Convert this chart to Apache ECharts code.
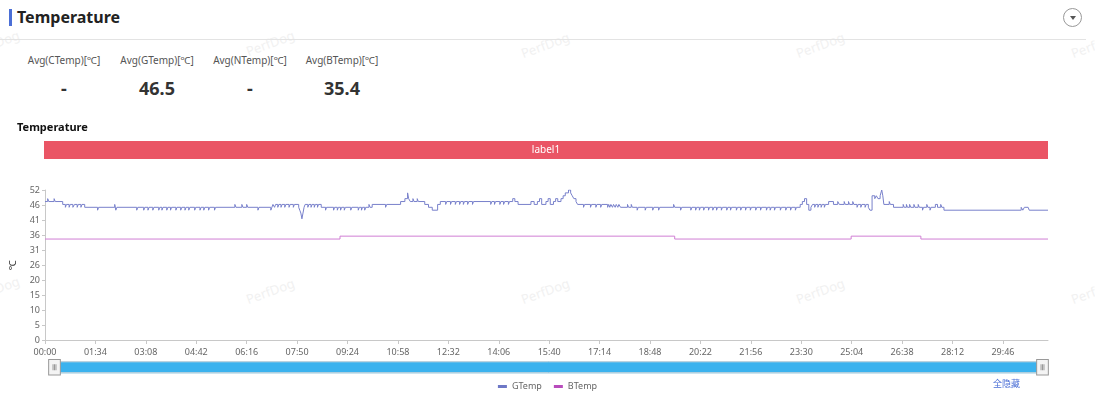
<!DOCTYPE html>
<html>
<head>
<meta charset="utf-8">
<title>Temperature</title>
<script src="https://cdn.jsdelivr.net/npm/echarts@6/dist/echarts.min.js"></script>
<style>
  html, body { margin: 0; padding: 0; background: #fff; }
  body { width: 1095px; height: 399px; position: relative; overflow: hidden;
    font-family: "Noto Sans", "Noto Sans CJK SC", sans-serif; color: #333; }
  .wm { position: absolute; color: #f1f1f1; font-size: 13px; transform: rotate(-20deg);
    pointer-events: none; z-index: 0; white-space: nowrap; }
  .head { position: absolute; left: 0; top: 0; width: 1086px; height: 39px; border-bottom: 1px solid #e3e3e3; z-index: 2; }
  .head .bar { position: absolute; left: 9px; top: 9px; width: 3px; height: 17px; background: #4b6fd6; }
  .head .title { position: absolute; left: 17px; top: 6px; font-size: 16px; font-weight: bold; color: #222; }
  .head .btn { position: absolute; left: 1063px; top: 8px; width: 19px; height: 19px; border: 1px solid #999;
    border-radius: 50%; box-sizing: border-box; }
  .head .btn:after { content: ''; position: absolute; left: 6px; top: 7px; border-left: 3px solid transparent;
    border-right: 3px solid transparent; border-top: 4px solid #555; }
  .stat { position: absolute; top: 52px; width: 100px; text-align: center; z-index: 2; }
  .stat .k { font-size: 10px; color: #555; line-height: 16px; }
  .stat .v { font-size: 18px; font-weight: bold; color: #333; margin-top: 9px; line-height: 22px; }
  #chart { position: absolute; left: 0; top: 115px; width: 1095px; height: 284px; z-index: 1; }
  .hideall { position: absolute; left: 993px; top: 377px; font-size: 9px; color: #4b6fd6; z-index: 2; }
</style>
</head>
<body>
<div class="head">
  <div class="bar"></div>
  <div class="title">Temperature</div>
  <div class="btn"></div>
</div>
<div id="stats"></div>
<div id="chart"></div>
<div class="hideall">全隐藏</div>
<script>
// summary figures above the chart
const statNames = ['Avg(CTemp)[℃]', 'Avg(GTemp)[℃]', 'Avg(NTemp)[℃]', 'Avg(BTemp)[℃]'];
const statValues = ['-', '46.5', '-', '35.4'];

// label strip on top of the plot
const labelNames = ['label1'];
const labelEnds = [1870];

// time axis in seconds
const timeMax = 1870;
const tickStep = 94;

// GTemp: [second, value] change points
const gTemp = [
  [0, 48], [5, 49], [7, 48], [17, 49], [19, 48], [33, 47], [38, 46], [40, 47], [45, 46], [47, 47],
  [52, 46], [55, 47], [60, 46], [62, 47], [67, 46], [69, 47], [74, 46],
  [98, 45], [100, 46], [130, 47], [132, 45], [134, 46], [171, 45], [173, 46], [184, 45], [186, 46],
  [192, 45], [194, 46], [201, 45], [203, 46], [212, 45], [214, 46], [218, 45], [220, 46],
  [227, 45], [229, 46], [234, 45], [236, 46], [244, 45], [246, 46], [253, 45], [255, 46],
  [261, 45], [263, 46], [268, 45], [270, 46], [279, 45], [281, 46], [289, 45], [291, 46],
  [296, 45], [298, 46], [305, 45], [307, 46], [316, 45], [318, 46], [354, 47], [356, 46],
  [367, 47], [369, 46], [376, 47], [378, 46], [397, 45], [399, 46], [421, 45], [423, 46],
  [425, 47], [428, 46], [430, 47], [434, 46], [436, 47], [440, 46], [442, 47], [447, 46], [449, 47],
  [455, 46], [457, 47], [463, 46], [465, 47], [473, 46], [475, 45], [477, 44], [479, 42], [481, 44],
  [483, 46], [485, 47], [490, 46], [492, 47], [496, 46], [498, 47], [502, 46], [504, 47], [508, 46],
  [510, 47], [515, 46], [523, 45], [525, 46], [538, 45], [540, 46], [545, 45], [547, 46],
  [551, 45], [553, 46], [558, 45], [560, 46], [570, 45], [572, 46], [584, 45], [586, 46],
  [590, 45], [592, 46], [596, 45], [598, 46], [604, 47], [606, 46], [610, 47], [635, 46], [637, 47],
  [663, 48], [671, 49], [676, 51], [678, 49], [681, 48], [686, 49], [688, 48], [694, 49], [696, 48],
  [708, 47], [715, 46], [722, 45], [732, 47], [737, 48],
  [747, 47], [749, 48], [756, 47], [758, 48], [765, 47], [767, 48], [773, 47], [775, 48],
  [780, 47], [782, 48], [788, 47], [790, 48], [797, 47], [799, 48], [831, 47], [833, 48],
  [838, 47], [840, 48], [848, 47], [850, 48], [855, 47], [857, 48], [864, 47], [866, 48],
  [872, 49], [876, 48], [882, 47], [906, 48], [912, 47], [918, 48], [922, 49], [926, 47],
  [934, 48], [938, 49], [942, 47], [948, 48], [952, 49], [956, 48],
  [962, 49], [966, 50], [970, 51], [976, 52], [980, 51], [983, 50], [986, 49], [990, 48], [993, 47],
  [1004, 46], [1006, 47], [1017, 46], [1019, 47], [1027, 46], [1029, 47], [1036, 46], [1038, 47],
  [1049, 46], [1051, 47], [1053, 46], [1055, 47], [1058, 46], [1060, 47], [1063, 46], [1065, 47],
  [1068, 46], [1070, 47], [1073, 46], [1086, 47], [1088, 46], [1093, 47], [1095, 46],
  [1104, 45], [1106, 46], [1119, 45], [1121, 46], [1133, 45], [1135, 46], [1144, 45], [1146, 46],
  [1172, 47], [1174, 46], [1185, 45], [1187, 46],
  [1204, 45], [1206, 46], [1213, 45], [1215, 46], [1220, 45], [1222, 46], [1228, 45], [1230, 46],
  [1237, 45], [1239, 46], [1245, 45], [1247, 46], [1252, 45], [1254, 46], [1261, 45], [1263, 46],
  [1271, 45], [1273, 46], [1278, 45], [1280, 46], [1289, 45], [1291, 46], [1297, 45], [1299, 46],
  [1306, 45], [1308, 46], [1315, 45], [1317, 46], [1325, 45], [1327, 46], [1334, 45], [1336, 46],
  [1345, 45], [1347, 46], [1352, 45], [1354, 46], [1360, 45], [1362, 46], [1371, 45], [1373, 46],
  [1381, 45], [1383, 46], [1390, 45], [1392, 46], [1399, 45], [1401, 46],
  [1408, 47], [1412, 48], [1416, 49], [1420, 47], [1424, 45], [1428, 46], [1431, 47],
  [1435, 46], [1437, 47], [1441, 46], [1443, 47], [1447, 46], [1449, 47], [1453, 46], [1455, 47],
  [1461, 48], [1470, 47], [1478, 48], [1481, 47], [1490, 48], [1492, 47], [1498, 48], [1500, 47],
  [1506, 48], [1508, 47], [1514, 46], [1516, 47], [1521, 46], [1523, 47], [1529, 46], [1531, 47],
  [1535, 46], [1538, 45], [1542, 50], [1547, 49], [1550, 50], [1553, 49], [1557, 50], [1560, 52],
  [1562, 50], [1564, 47], [1574, 48], [1576, 47], [1582, 46],
  [1600, 47], [1602, 46], [1606, 47], [1608, 46], [1612, 47], [1614, 46], [1620, 47], [1622, 46],
  [1628, 47], [1630, 46], [1636, 45], [1638, 46], [1644, 47], [1646, 46], [1650, 45], [1652, 46],
  [1660, 47], [1664, 46], [1670, 47], [1672, 46],
  [1676, 45], [1820, 46], [1823, 45], [1826, 46], [1833, 46], [1835, 45], [1870, 45]
];

// BTemp: [second, value] change points
const bTemp = [[0, 35], [550, 36], [1174, 35], [1503, 36], [1633, 35], [1870, 35]];

// watermark spots [left, top]
const marks = [[-30, 34], [245, 34], [520, 36], [795, 36], [1070, 36],
  [-30, 280], [245, 282], [520, 282], [795, 282], [1070, 282]];

const statLeft = [14, 107, 200, 292];
const statsEl = document.getElementById('stats');
statNames.forEach((n, i) => {
  const d = document.createElement('div');
  d.className = 'stat';
  d.style.left = statLeft[i] + 'px';
  d.innerHTML = '<div class="k">' + n + '</div><div class="v">' + statValues[i] + '</div>';
  statsEl.appendChild(d);
});
marks.forEach(m => {
  const w = document.createElement('div');
  w.className = 'wm';
  w.style.left = m[0] + 'px';
  w.style.top = m[1] + 'px';
  w.textContent = 'PerfDog';
  document.body.appendChild(w);
});

const pad = n => (n < 10 ? '0' : '') + n;
const fmtTime = v => pad(Math.floor(v / 60)) + ':' + pad(Math.round(v % 60));

const chart = echarts.init(document.getElementById('chart'));
const font = '"Noto Sans", "Noto Sans CJK SC", sans-serif';

const option = {
  animation: false,
  textStyle: { fontFamily: font },
  title: {
    text: 'Temperature',
    left: 12,
    top: 2,
    textStyle: { fontSize: 11, fontWeight: 'bold', color: '#111', fontFamily: font }
  },
  tooltip: { trigger: 'axis' },
  legend: {
    data: ['GTemp', 'BTemp'],
    top: 262,
    left: 'center',
    icon: 'rect',
    itemWidth: 9,
    itemHeight: 3,
    itemGap: 12,
    textStyle: { fontSize: 9, color: '#666' }
  },
  grid: [
    { left: 44, right: 47, top: 75, bottom: 59 },
    { left: 44, right: 47, top: 26, height: 18 }
  ],
  xAxis: [
    {
      type: 'value',
      gridIndex: 0,
      min: 0,
      max: timeMax,
      interval: tickStep,
      axisLine: { lineStyle: { color: '#c8c8c8' } },
      axisTick: { length: 4, lineStyle: { color: '#c8c8c8' } },
      axisLabel: { fontSize: 9, color: '#666', showMaxLabel: false, formatter: fmtTime },
      splitLine: { show: false }
    },
    { type: 'value', gridIndex: 1, min: 0, max: timeMax, show: false }
  ],
  yAxis: [
    {
      type: 'value',
      gridIndex: 0,
      min: 0,
      max: 52,
      interval: 5.2,
      name: '℃',
      nameLocation: 'middle',
      nameGap: 27,
      nameTextStyle: { fontSize: 10, color: '#333' },
      axisLine: { show: true, lineStyle: { color: '#c8c8c8' } },
      axisTick: { show: true, length: 3, lineStyle: { color: '#c8c8c8' } },
      axisLabel: { fontSize: 9, color: '#666', margin: 5, formatter: v => Math.floor(v) },
      splitLine: { show: false }
    },
    { type: 'category', gridIndex: 1, data: labelNames, show: false }
  ],
  dataZoom: [{
    type: 'slider',
    xAxisIndex: [0, 1],
    left: 51,
    right: 54,
    top: 246,
    height: 12,
    start: 0,
    end: 100,
    backgroundColor: '#e8e8e8',
    fillerColor: '#3bb2ee',
    borderColor: '#d9d9d9',
    showDetail: false,
    brushSelect: false,
    moveHandleSize: 0,
    dataBackground: { lineStyle: { opacity: 0 }, areaStyle: { opacity: 0 } },
    selectedDataBackground: { lineStyle: { opacity: 0 }, areaStyle: { opacity: 0 } },
    handleIcon: 'path://M0,0H12V16H0Z M4.5,5V11 M6,5V11 M7.5,5V11',
    handleSize: '130%',
    handleStyle: { color: '#f4f4f4', borderColor: '#999', borderWidth: 1 }
  }],
  series: [
    {
      name: 'GTemp',
      type: 'line',
      step: 'end',
      xAxisIndex: 0,
      yAxisIndex: 0,
      showSymbol: false,
      symbol: 'none',
      color: '#6e78c6',
      lineStyle: { width: 1, color: '#7880cb' },
      data: gTemp
    },
    {
      name: 'BTemp',
      type: 'line',
      step: 'end',
      xAxisIndex: 0,
      yAxisIndex: 0,
      showSymbol: false,
      symbol: 'none',
      color: '#b84cbc',
      lineStyle: { width: 1, color: '#d07fd4' },
      data: bTemp
    },
    {
      name: 'label',
      type: 'bar',
      xAxisIndex: 1,
      yAxisIndex: 1,
      barWidth: 18,
      silent: true,
      itemStyle: { color: '#ea5565' },
      label: { show: true, position: 'inside', formatter: '{b}', color: '#fff', fontSize: 10 },
      data: labelEnds
    }
  ]
};

chart.setOption(option);
window.addEventListener('resize', () => chart.resize());
</script>
</body>
</html>
